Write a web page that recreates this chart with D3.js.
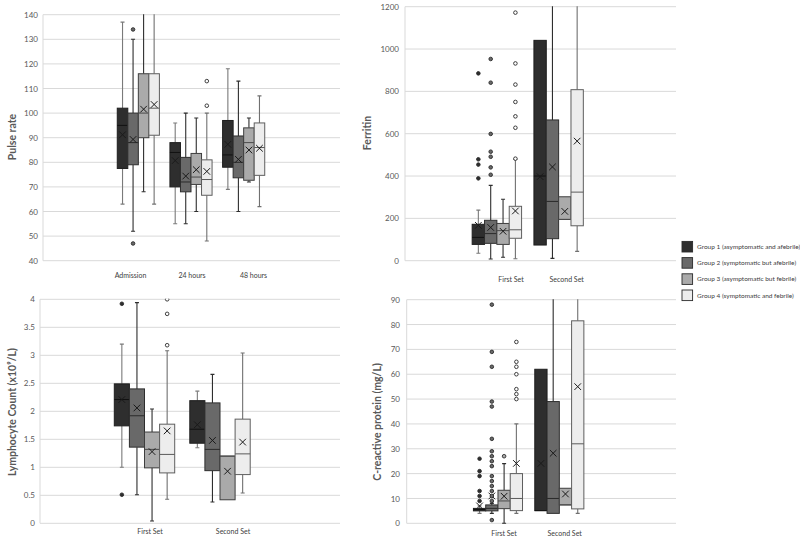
<!DOCTYPE html>
<html><head><meta charset="utf-8">
<script src="https://cdn.jsdelivr.net/npm/d3@7"></script>
<style>
body{margin:0;background:#fff}
svg{display:block}
text{font-family:Lato,"Open Sans",sans-serif}
</style>
</head><body>
<svg id="chart" width="800" height="542"></svg>
<script>
// ---------------- DATA ----------------
// each stat = [min, q1, median, q3, max, mean]
const groupNames = ["Group 1 (asymptomatic and afebrile)","Group 2 (symptomatic but afebrile)","Group 3 (asymptomatic but febrile)","Group 4 (symptomatic and febrile)"];

const pulseCats = ["Admission","24 hours","48 hours"];
const pulseTicks = [40,50,60,70,80,90,100,110,120,130,140];
const pulseG1 = [[63,77.5,95,102,137,91.2],[55,70,84,88,96,80.7],[69,78,83,97,118,87.3]];
const pulseG2 = [[52,79,88,100,130,89.3],[55,68,72,82,100,74.4],[60,73.7,80,90.7,113,81.2]];
const pulseG3 = [[68,90,100,116,150,101.6],[60,71,74,83.6,98,77],[72,72.7,88,94,98,85]];
const pulseG4 = [[63,91,102,116,155,103.5],[48,66.6,73,81,100,76.3],[62,74.7,86,96,107,85.7]];
const pulseOut = [[[],[],[]],[[134,47],[],[]],[[],[],[]],[[],[113,103],[]]];

const setCats = ["First Set","Second Set"];
const ferritinTicks = [0,200,400,600,800,1000,1200];
const ferG1 = [[35,77,110,172,239,167],[74,74,400,1041,1041,397]];
const ferG2 = [[8,82,128,191,356,157],[11,104,280,665,1500,443]];
const ferG3 = [[16,77,142,176,290,139],[195,195,195,302,302,233]];
const ferG4 = [[9,106,146,257,480,235],[44,165,324,808,1600,565]];
const ferOut = [[[885,479,454,389],[]],[[953,841,599,515,491,441,406],[]],[[],[]],[[1172,932,832,750,682,628,482],[]]];

const lymTicks = [0,0.5,1,1.5,2,2.5,3,3.5,4];
const lymG1 = [[1.0,1.74,2.21,2.49,3.2,2.21],[1.35,1.43,1.68,2.19,2.36,1.76]];
const lymG2 = [[0.51,1.36,1.92,2.4,3.94,2.06],[0.38,0.94,1.32,2.15,2.66,1.48]];
const lymG3 = [[0.04,0.99,1.32,1.63,2.04,1.28],[0.42,0.42,1.2,1.2,1.2,0.93]];
const lymG4 = [[0.43,0.9,1.23,1.77,3.08,1.65],[0.54,0.87,1.24,1.86,3.04,1.45]];
const lymOut = [[[3.92,0.51],[]],[[],[]],[[],[]],[[4.0,3.74,3.18],[]]];

const crpTicks = [0,10,20,30,40,50,60,70,80,90];
const crpG1 = [[4,5,5.5,6,7,7],[5.1,5.1,5.1,62,62,24.1]];
const crpG2 = [[4,5,6,7.4,8,11],[4,4,10,49,110,28.2]];
const crpG3 = [[0,5.9,9,13.3,24,10.9],[7.4,7.4,7.4,14.1,14.1,11.8]];
const crpG4 = [[4,5.1,10,20,40,24.1],[4,5.8,32,81.5,120,55]];
const crpOut = [[[26,21,19,13,11,9],[]],[[88,69,63,49,47,34,29,27,25,23,19,17,15,13,11,9,1.3],[]],[[27],[]],[[73,65,63,60,54,52,50],[]]];

// ---------------- STYLE ----------------
const fills = ["#2e2e2e","#696969","#aaaaaa","#ededed"];
const boxStroke = ["#1e1e1e","#2e2e2e","#3e3e3e","#5e5e5e"];
const whiskerStroke = ["#7a7a7a","#2e2e2e","#2e2e2e","#707070"];
const medianStroke = ["#111111","#2a2a2a","#4a4a4a","#5a5a5a"];

const svg = d3.select("#chart");
const defs = svg.append("defs");
let clipId = 0;

function drawPanel(p){
  const g = svg.append("g");
  const y = d3.scaleLinear().domain([p.ticks[0], p.ticks[p.ticks.length-1]]).range([p.y1, p.y0]);
  // gridlines
  g.selectAll("line.grid").data(p.ticks).join("line")
    .attr("x1", p.x0).attr("x2", p.x1)
    .attr("y1", d => y(d)).attr("y2", d => y(d))
    .attr("stroke", "#d9d9d9").attr("stroke-width", 1);
  g.append("line").attr("x1", p.x0).attr("x2", p.x0).attr("y1", p.y0).attr("y2", p.y1)
    .attr("stroke", "#d9d9d9");
  // y tick labels
  const ax = g.append("g").attr("transform", `translate(${p.labelX},0)`)
    .call(d3.axisLeft(y).tickValues(p.ticks).tickSize(0).tickPadding(0).tickFormat(d3.format("")));
  ax.select(".domain").remove();
  ax.selectAll("text").attr("fill", "#595959").style("font-size", "8px").style("font-family", "Lato, sans-serif");
  // y title
  g.append("text").attr("transform", `translate(${p.titleX},${p.titleY}) rotate(-90)`)
    .attr("text-anchor", "middle").attr("dy", "0.35em")
    .attr("fill", "#595959").style("font-size", "10.5px").style("font-weight", "bold")
    .text(p.title);
  // category labels
  const xl = d3.scaleBand().domain(p.cats).range(p.labelRange);
  const axb = g.append("g").attr("transform", `translate(0,${p.labelY})`)
    .call(d3.axisBottom(xl).tickSize(0).tickPadding(0));
  axb.select(".domain").remove();
  axb.selectAll("text").attr("fill", "#404040").style("font-size", "7px").attr("dy", "0.35em").attr("y", 0)
    .style("font-family", "Lato, sans-serif");

  // clip
  const cid = "clip" + (clipId++);
  defs.append("clipPath").attr("id", cid).append("rect")
    .attr("x", p.x0).attr("y", p.y0 - 0.5).attr("width", p.x1 - p.x0).attr("height", p.y1 - p.y0 + 3);
  const plot = g.append("g").attr("clip-path", `url(#${cid})`);

  const x = d3.scaleBand().domain(p.cats).range(p.catRange);
  const xi = d3.scaleBand().domain(d3.range(4)).range([x.bandwidth()*0.1, x.bandwidth()*0.9]);
  const bw = xi.bandwidth();

  p.stats.forEach((series, gi) => {
    series.forEach((s, ci) => {
      const cx = x(p.cats[ci]) + xi(gi) + bw/2;
      const [mn, q1, md, q3, mx, mean] = s;
      const bg = plot.append("g");
      const ws = whiskerStroke[gi];
      if (mx > q3) {
        bg.append("line").attr("x1", cx).attr("x2", cx).attr("y1", y(mx)).attr("y2", y(q3)).attr("stroke", ws).attr("stroke-width", 1.1);
        bg.append("line").attr("x1", cx-2).attr("x2", cx+2).attr("y1", y(mx)).attr("y2", y(mx)).attr("stroke", ws).attr("stroke-width", 1.1);
      }
      if (mn < q1) {
        bg.append("line").attr("x1", cx).attr("x2", cx).attr("y1", y(q1)).attr("y2", y(mn)).attr("stroke", ws).attr("stroke-width", 1.1);
        bg.append("line").attr("x1", cx-2).attr("x2", cx+2).attr("y1", y(mn)).attr("y2", y(mn)).attr("stroke", ws).attr("stroke-width", 1.1);
      }
      bg.append("rect").attr("x", cx - bw/2).attr("y", y(q3)).attr("width", bw).attr("height", Math.max(1, y(q1) - y(q3)))
        .attr("fill", fills[gi]).attr("stroke", boxStroke[gi]).attr("stroke-width", 1);
      bg.append("line").attr("x1", cx - bw/2).attr("x2", cx + bw/2).attr("y1", y(md)).attr("y2", y(md))
        .attr("stroke", medianStroke[gi]).attr("stroke-width", 1);
      const m = 3.3, my = y(mean);
      bg.append("path").attr("d", `M${cx-m},${my-m}L${cx+m},${my+m}M${cx-m},${my+m}L${cx+m},${my-m}`)
        .attr("stroke", "#1a1a1a").attr("stroke-width", 1).attr("fill", "none");
      bg.selectAll("circle").data(p.outliers[gi][ci]).join("circle")
        .attr("cx", cx).attr("cy", d => y(d)).attr("r", 1.8)
        .attr("fill", gi === 3 ? "#ffffff" : fills[gi]).attr("stroke", "#2a2a2a").attr("stroke-width", 0.9);
    });
  });
}

drawPanel({x0:43, x1:340, y0:14.7, y1:260.7, ticks:pulseTicks, labelX:38, title:"Pulse rate", titleX:12, titleY:137,
  cats:pulseCats, catRange:[112,270], labelRange:[99.75,284.25], labelY:276,
  stats:[pulseG1,pulseG2,pulseG3,pulseG4], outliers:pulseOut});
drawPanel({x0:405, x1:676, y0:6.7, y1:260.7, ticks:ferritinTicks, labelX:399, title:"Ferritin", titleX:367, titleY:133,
  cats:setCats, catRange:[466,589.5], labelRange:[483.2,594.5], labelY:280,
  stats:[ferG1,ferG2,ferG3,ferG4], outliers:ferOut});
drawPanel({x0:40, x1:340, y0:299.3, y1:523.3, ticks:lymTicks, labelX:35, title:"Lymphocyte Count (x10⁹/L)", titleX:12, titleY:412,
  cats:setCats, catRange:[106.75,257.75], labelRange:[108.5,274.5], labelY:532,
  stats:[lymG1,lymG2,lymG3,lymG4], outliers:lymOut});
drawPanel({x0:406.7, x1:676, y0:299.7, y1:523.3, ticks:crpTicks, labelX:400, title:"C-reactive protein (mg/L)", titleX:377, titleY:422,
  cats:setCats, catRange:[467.3,590], labelRange:[473.7,595], labelY:534,
  stats:[crpG1,crpG2,crpG3,crpG4], outliers:crpOut});

// legend
const leg = svg.append("g");
const ly = d3.scalePoint().domain(groupNames).range([246.7, 295.3]);
groupNames.forEach((name, i) => {
  leg.append("rect").attr("x", 682).attr("y", ly(name) - 5.3).attr("width", 10.6).attr("height", 10.6)
    .attr("fill", fills[i]).attr("stroke", "#2a2a2a").attr("stroke-width", 0.9);
  leg.append("text").attr("x", 697).attr("y", ly(name)).attr("dy", "0.35em")
    .attr("fill", "#404040").style("font-size", "6.5px").text(name);
});
</script>
</body></html>
